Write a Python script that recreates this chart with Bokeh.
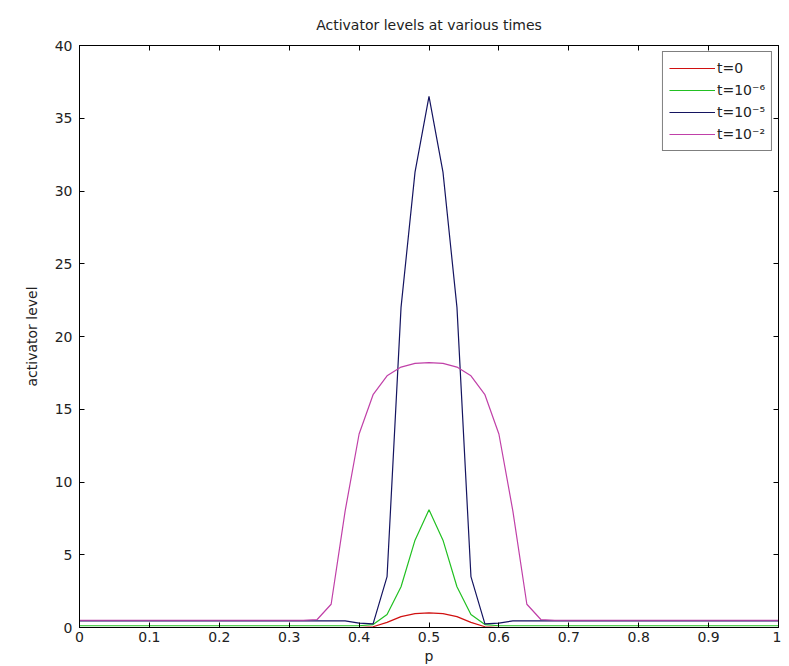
from bokeh.plotting import figure
from bokeh.models import (LinearAxis, Range1d, FixedTicker, Legend, LegendItem,
                          CustomJSTickFormatter)
from bokeh.embed import file_html
from bokeh.resources import INLINE

p_vals = [0.00, 0.02, 0.04, 0.06, 0.08, 0.10, 0.12, 0.14, 0.16, 0.18,
          0.20, 0.22, 0.24, 0.26, 0.28, 0.30, 0.32, 0.34, 0.36, 0.38,
          0.40, 0.42, 0.44, 0.46, 0.48, 0.50, 0.52, 0.54, 0.56, 0.58,
          0.60, 0.62, 0.64, 0.66, 0.68, 0.70, 0.72, 0.74, 0.76, 0.78,
          0.80, 0.82, 0.84, 0.86, 0.88, 0.90, 0.92, 0.94, 0.96, 0.98, 1.00]

t0 = [0.0]*21 + [0.05, 0.35, 0.75, 0.95, 1.0, 0.95, 0.75, 0.35, 0.05] + [0.0]*21
t1e6 = [0.12]*21 + [0.2, 0.9, 2.8, 6.0, 8.1, 6.0, 2.8, 0.9, 0.2] + [0.12]*21
t1e5 = [0.45]*20 + [0.3, 0.25, 3.5, 22.0, 31.3, 36.5, 31.3, 22.0, 3.5, 0.25, 0.3] + [0.45]*20
t1e2 = [0.5]*17 + [0.55, 1.6, 8.0, 13.3, 16.0, 17.3, 17.9, 18.15, 18.2,
                   18.15, 17.9, 17.3, 16.0, 13.3, 8.0, 1.6, 0.55] + [0.5]*17

labels = ["t=0", "t=10\u207b\u2076", "t=10\u207b\u2075", "t=10\u207b\u00b2"]
colors = ["#d01010", "#22c022", "#141460", "#c040a8"]

x_ticks = [0, 0.1, 0.2, 0.3, 0.4, 0.5, 0.6, 0.7, 0.8, 0.9, 1]
y_ticks = [0, 5, 10, 15, 20, 25, 30, 35, 40]

FONT = "DejaVu Sans"
TXT = "#222222"

p = figure(width=781, height=666, output_backend="svg", toolbar_location=None,
           x_range=Range1d(0, 1), y_range=Range1d(0, 40),
           title="Activator levels at various times",
           min_border_left=79, min_border_right=3, min_border_top=45,
           min_border_bottom=20)

p.title.align = "center"
p.title.text_font = FONT
p.title.text_font_size = "14px"
p.title.text_font_style = "normal"
p.title.text_color = TXT
p.title.standoff = 26

p.xgrid.visible = False
p.ygrid.visible = False
p.outline_line_color = "black"
p.outline_line_width = 1
p.background_fill_color = "white"
p.border_fill_color = "white"

series = [t0, t1e6, t1e5, t1e2]
renderers = []
for ys, c in zip(series, colors):
    r = p.line(p_vals, ys, line_color=c, line_width=1.2)
    renderers.append(r)

for ax in (p.xaxis[0], p.yaxis[0]):
    ax.major_tick_in = 5
    ax.major_tick_out = 0
    ax.minor_tick_line_color = None
    ax.axis_line_color = "black"
    ax.major_label_text_font = FONT
    ax.major_label_text_font_size = "14px"
    ax.major_label_text_color = TXT
    ax.axis_label_text_font = FONT
    ax.axis_label_text_font_size = "14px"
    ax.axis_label_text_font_style = "normal"
    ax.axis_label_text_color = TXT

p.xaxis[0].ticker = FixedTicker(ticks=x_ticks)
p.yaxis[0].ticker = FixedTicker(ticks=y_ticks)
p.xaxis[0].axis_label = "p"
p.yaxis[0].axis_label = "activator level"
p.xaxis[0].major_label_standoff = 4
p.xaxis[0].axis_label_standoff = 3
p.yaxis[0].major_label_standoff = 7
p.yaxis[0].axis_label_standoff = 12

blank = CustomJSTickFormatter(code="return ''")
top = LinearAxis(ticker=FixedTicker(ticks=x_ticks), major_tick_in=5, major_tick_out=0,
                 minor_tick_line_color=None, formatter=blank,
                 major_label_standoff=0)
right = LinearAxis(ticker=FixedTicker(ticks=y_ticks), major_tick_in=5, major_tick_out=0,
                   minor_tick_line_color=None, formatter=blank,
                   major_label_standoff=0)
p.add_layout(top, "above")
p.add_layout(right, "right")

legend = Legend(items=[LegendItem(label=l, renderers=[r]) for l, r in zip(labels, renderers)],
                location="top_right")
legend.label_text_font = FONT
legend.label_text_font_size = "14px"
legend.label_text_color = TXT
legend.border_line_color = "black"
legend.border_line_width = 1
legend.glyph_width = 46
legend.glyph_height = 20
legend.label_height = 20
legend.label_standoff = 2
legend.spacing = 2
legend.padding = 6
legend.margin = 6
legend.background_fill_alpha = 1.0
p.add_layout(legend, "center")

open("out.html", "w").write(file_html(p, INLINE))
